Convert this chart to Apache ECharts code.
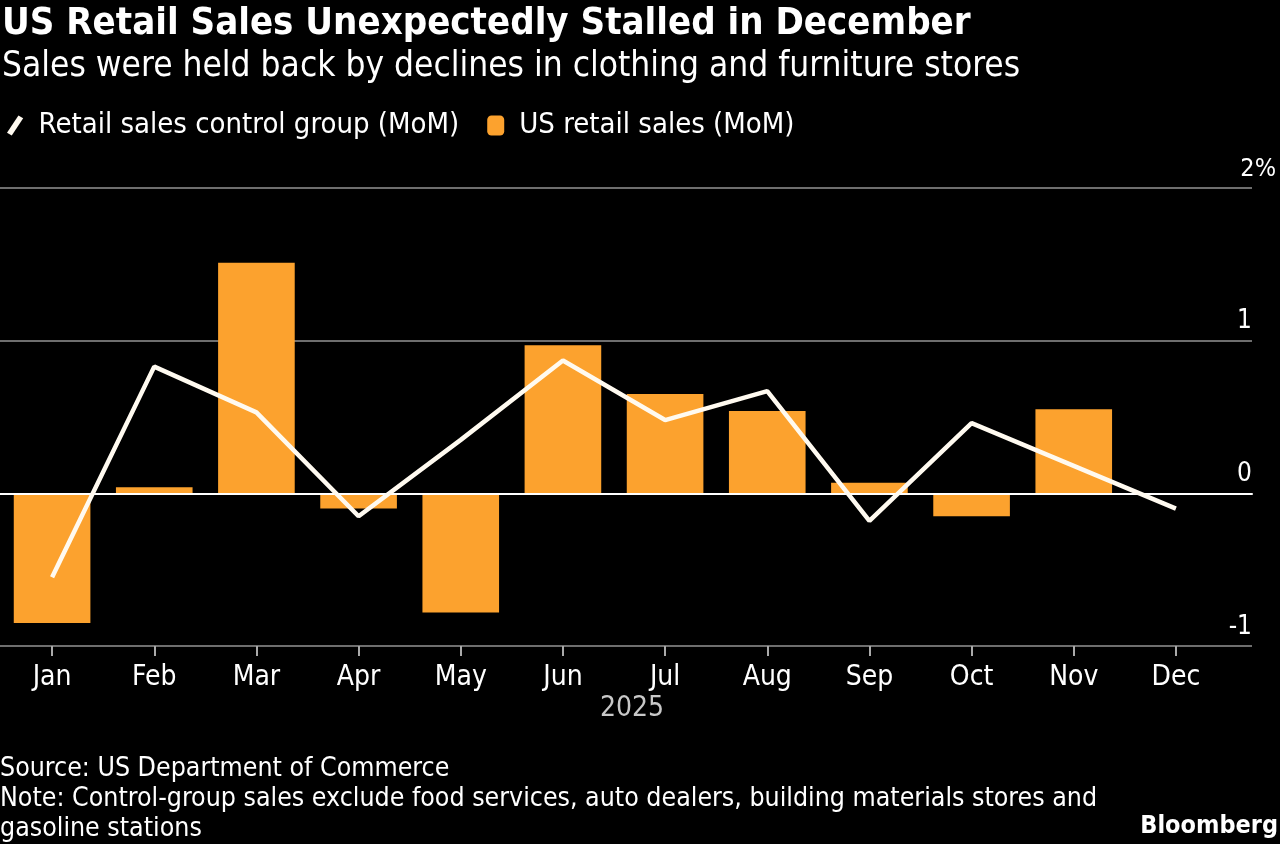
<!DOCTYPE html>
<html>
<head>
<meta charset="utf-8">
<script src="https://cdn.jsdelivr.net/npm/echarts@6/dist/echarts.min.js"></script>
<style>
  html, body { margin: 0; padding: 0; background: #000; }
  #main { width: 1280px; height: 844px; }
</style>
</head>
<body>
<div id="main"></div>
<script>
var FONT = "'DejaVu Sans Condensed', 'DejaVu Sans', sans-serif";

var months = ['Jan', 'Feb', 'Mar', 'Apr', 'May', 'Jun', 'Jul', 'Aug', 'Sep', 'Oct', 'Nov', 'Dec'];
// US retail sales, MoM %
var retailSales = [-0.85, 0.04, 1.51, -0.10, -0.78, 0.97, 0.65, 0.54, 0.07, -0.15, 0.55, -0.01];
// retail sales control group, MoM %
var controlGroup = [-0.55, 0.83, 0.53, -0.15, 0.35, 0.87, 0.48, 0.67, -0.18, 0.46, 0.18, -0.10];
var yTicks = [-1, 0, 1, 2];

var gridTop = 188, gridBottom = 198;

var myChart = echarts.init(document.getElementById('main'));
myChart.setOption({
    backgroundColor: '#000',
    textStyle: { fontFamily: FONT },
    animation: false,
    title: {
        left: -3,
        top: 0,
        text: 'US Retail Sales Unexpectedly Stalled in December',
        subtext: 'Sales were held back by declines in clothing and furniture stores',
        itemGap: 6,
        textStyle: { color: '#fff', fontSize: 38, fontWeight: 'bold', fontFamily: FONT },
        subtextStyle: { color: '#fff', fontSize: 35, fontFamily: FONT }
    },
    legend: {
        left: 2,
        top: 106,
        itemWidth: 17,
        itemHeight: 20,
        itemGap: 28,
        textStyle: { color: '#fff', fontSize: 29, fontFamily: FONT, padding: [0, 0, 0, 10] },
        data: [
            { name: 'Retail sales control group (MoM)', icon: 'path://M0,19 L12,1 L17,4 L5,22 Z' },
            { name: 'US retail sales (MoM)', icon: 'roundRect' }
        ]
    },
    grid: [
        // full-width grid: gridlines, zero line, y labels
        { left: 0, right: 28, top: gridTop, bottom: gridBottom },
        // data grid
        { left: 1, right: 53, top: gridTop, bottom: gridBottom }
    ],
    xAxis: [
        {
            gridIndex: 0,
            type: 'value',
            min: 0, max: 1,
            z: 3,
            axisLine: { show: true, onZero: true, lineStyle: { color: '#fff', width: 2 } },
            axisTick: { show: false },
            axisLabel: { show: false },
            splitLine: { show: false }
        },
        {
            gridIndex: 1,
            type: 'category',
            data: months,
            axisLine: { show: false, onZero: false },
            axisTick: { show: true, alignWithLabel: true, length: 10, lineStyle: { color: '#aaa', width: 2 } },
            axisLabel: { color: '#fff', fontSize: 28, margin: 18, fontFamily: FONT }
        }
    ],
    yAxis: [
        {
            gridIndex: 0,
            type: 'value',
            position: 'right',
            min: -1, max: 2, interval: 1,
            axisLine: { show: false },
            axisTick: { show: false },
            splitLine: { lineStyle: { color: '#6e6e6e', width: 2 } },
            axisLabel: {
                inside: false,
                margin: 24,
                align: 'right',
                verticalAlign: 'bottom',
                color: '#fff',
                fontSize: 25,
                fontFamily: FONT,
                formatter: function (v) {
                    if (yTicks.indexOf(v) < 0) return '';
                    return v === 2 ? '{p|2%}' : '{n|' + v + '}';
                },
                rich: {
                    p: { fontSize: 25, color: '#fff', fontFamily: FONT, padding: [0, 0, 6, 0] },
                    n: { fontSize: 26, color: '#fff', fontFamily: FONT, padding: [0, 24, 6, 0] }
                }
            }
        },
        {
            gridIndex: 1,
            type: 'value',
            min: -1, max: 2, interval: 1,
            show: false,
            splitLine: { show: false }
        }
    ],
    series: [
        {
            name: 'US retail sales (MoM)',
            type: 'bar',
            xAxisIndex: 1,
            yAxisIndex: 1,
            barCategoryGap: '25%',
            itemStyle: { color: '#fca22e' },
            z: 2,
            data: retailSales
        },
        {
            name: 'Retail sales control group (MoM)',
            type: 'line',
            xAxisIndex: 1,
            yAxisIndex: 1,
            symbol: 'none',
            itemStyle: { color: '#fffaf0' },
            lineStyle: { color: '#fffaf0', width: 4.5 },
            z: 5,
            data: controlGroup
        }
    ],
    graphic: [
        { type: 'text', left: 600, top: 695, style: { text: '2025', fill: '#c8c8c8', font: '28px ' + FONT } },
        { type: 'text', left: 0, top: 756, style: { text: 'Source: US Department of Commerce', fill: '#fff', font: '26.5px ' + FONT } },
        { type: 'text', left: 0, top: 786, style: { text: 'Note: Control-group sales exclude food services, auto dealers, building materials stores and', fill: '#fff', font: '26.5px ' + FONT } },
        { type: 'text', left: 0, top: 816, style: { text: 'gasoline stations', fill: '#fff', font: '26.5px ' + FONT } },
        { type: 'text', right: 2, top: 814, style: { text: 'Bloomberg', fill: '#fff', font: 'bold 25px ' + FONT } }
    ]
});
</script>
</body>
</html>
